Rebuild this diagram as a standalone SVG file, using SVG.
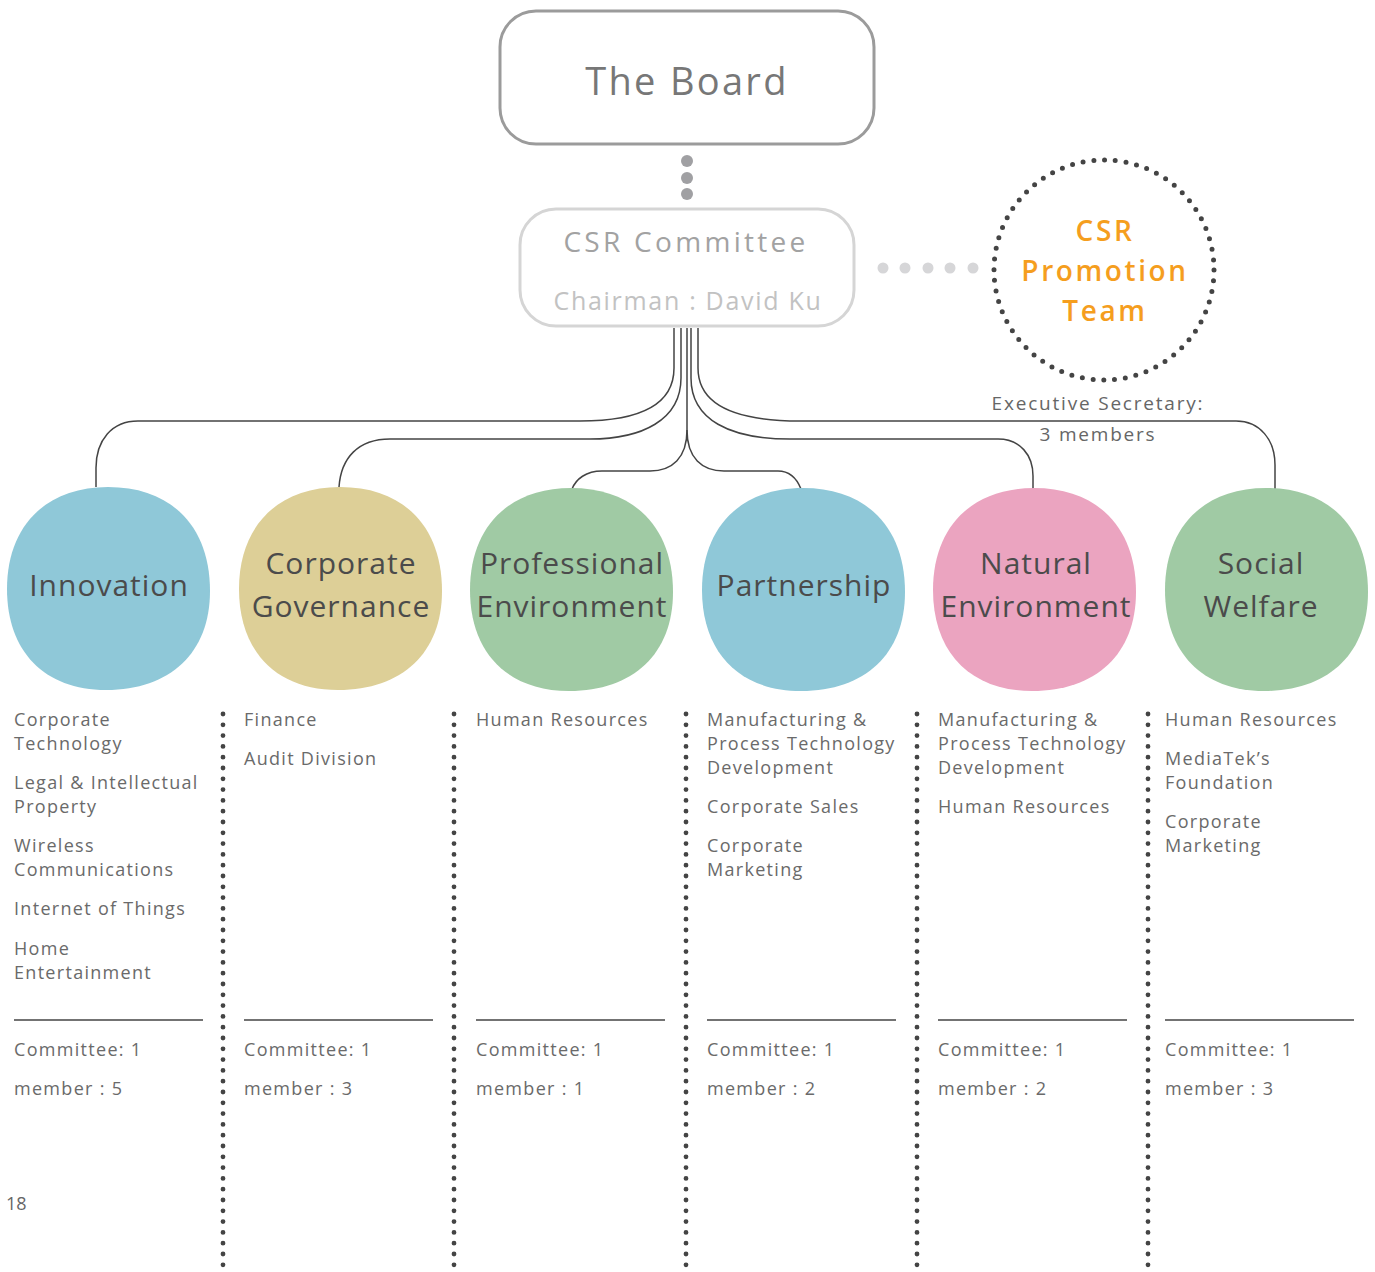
<svg xmlns="http://www.w3.org/2000/svg" width="1375" height="1272" viewBox="0 0 1375 1272">
<style>
  text { font-family: "Open Sans", "Liberation Sans", sans-serif; }
  .board { fill: #fff; stroke: #9b9b9b; stroke-width: 3; }
  .csr { fill: #fff; stroke: #d5d5d5; stroke-width: 3; }
  .conn { fill: none; stroke: #444; stroke-width: 1.5; }
  .btxt { font-size: 30px; fill: #4b4b4b; letter-spacing: 1px; text-anchor: middle; }
  .col { font-size: 18px; fill: #6a6a6a; letter-spacing: 1.3px; }
  .rule { stroke: #444; stroke-width: 1.5; }
  .vdots { fill: none; stroke: #444; stroke-width: 4.8; stroke-linecap: round; stroke-dasharray: 0 10.8; }
</style>
<defs>
  <path id="blob" d="M0,-102 C64,-102 102,-62 102,2 C102,64 62,101 -2,101 C-64,101 -101,62 -101,0 C-101,-62 -63,-102 0,-102 Z"/>
</defs>

<g id="board">
  <rect class="board" x="500" y="11" width="374" height="133" rx="36"/>
  <text x="687" y="95" text-anchor="middle" style="font-size:38px;fill:#777;letter-spacing:2.3px">The Board</text>
</g>

<g id="board-dots" fill="#a0a0a3">
  <circle cx="687" cy="161" r="6"/>
  <circle cx="687" cy="178" r="6"/>
  <circle cx="687" cy="194" r="6"/>
</g>

<g id="csr-committee">
  <rect class="csr" x="520" y="209" width="334" height="117" rx="36"/>
  <text x="686" y="252" text-anchor="middle" style="font-size:28px;fill:#a2a2a2;letter-spacing:3.3px">CSR Committee</text>
  <text x="688" y="310" text-anchor="middle" style="font-size:25px;fill:#c2c2c2;letter-spacing:1.7px">Chairman : David Ku</text>
</g>

<g id="side-dots" fill="#d6d6d8">
  <circle cx="883" cy="268" r="5.5"/>
  <circle cx="905" cy="268" r="5.5"/>
  <circle cx="928" cy="268" r="5.5"/>
  <circle cx="950" cy="268" r="5.5"/>
  <circle cx="973" cy="268" r="5.5"/>
</g>

<g id="csr-promotion-team">
  <circle cx="1104" cy="270" r="110" fill="none" stroke="#444" stroke-width="5" stroke-linecap="round" stroke-dasharray="0 10.8"/>
  <g style="font-size:28px;font-weight:600;fill:#f59e1e;letter-spacing:2.6px" text-anchor="middle">
    <text x="1105" y="241">CSR</text>
    <text x="1105" y="281">Promotion</text>
    <text x="1105" y="321">Team</text>
  </g>
  <text x="1098" y="410" text-anchor="middle" style="font-size:19px;fill:#666;letter-spacing:1.8px">Executive Secretary:</text>
  <text x="1098" y="441" text-anchor="middle" style="font-size:19px;fill:#666;letter-spacing:1.8px">3 members</text>
</g>

<g id="connectors">
  <path class="conn" d="M674,328 V368 C674,405 640,421 580,421 H138 C112,421 96,440 96,468 V487"/>
  <path class="conn" d="M681,328 V378 C681,420 642,439 590,439 H390 C358,439 341,458 339,487"/>
  <path class="conn" d="M687,328 V430 C687,458 672,471 650,471 H602 C586,471 576,479 572,489"/>
  <path class="conn" d="M687,430 C687,458 702,471 724,471 H778 C791,471 797,479 801,489"/>
  <path class="conn" d="M691,328 V378 C691,420 730,439 790,439 H998 C1020,439 1033,455 1033,476 V489"/>
  <path class="conn" d="M698,328 V368 C698,405 734,421 800,421 H1236 C1260,421 1275,440 1275,465 V489"/>
</g>

<g id="innovation">
  <use href="#blob" x="108" y="589" fill="#8fc8d8"/>
  <text class="btxt" x="109" y="596">Innovation</text>
</g>
<g id="corporate-governance">
  <use href="#blob" x="340" y="589" fill="#ddcf97"/>
  <text class="btxt" x="341" y="574">Corporate</text>
  <text class="btxt" x="341" y="617">Governance</text>
</g>
<g id="professional-environment">
  <use href="#blob" x="571" y="590" fill="#a0caa4"/>
  <text class="btxt" x="572" y="574">Professional</text>
  <text class="btxt" x="572" y="617">Environment</text>
</g>
<g id="partnership">
  <use href="#blob" x="803" y="590" fill="#8fc8d8"/>
  <text class="btxt" x="804" y="596">Partnership</text>
</g>
<g id="natural-environment">
  <use href="#blob" x="1034" y="590" fill="#eba4c0"/>
  <text class="btxt" x="1036" y="574">Natural</text>
  <text class="btxt" x="1036" y="617">Environment</text>
</g>
<g id="social-welfare">
  <use href="#blob" x="1266" y="590" fill="#a0caa4"/>
  <text class="btxt" x="1261" y="574">Social</text>
  <text class="btxt" x="1261" y="617">Welfare</text>
</g>

<g id="dividers">
  <line class="vdots" x1="223" y1="714" x2="223" y2="1272"/>
  <line class="vdots" x1="454" y1="714" x2="454" y2="1272"/>
  <line class="vdots" x1="686" y1="714" x2="686" y2="1272"/>
  <line class="vdots" x1="917" y1="714" x2="917" y2="1272"/>
  <line class="vdots" x1="1148" y1="714" x2="1148" y2="1272"/>
</g>

<g id="col-innovation">
  <text class="col" x="14" y="726">Corporate</text>
  <text class="col" x="14" y="750">Technology</text>
  <text class="col" x="14" y="789">Legal &amp; Intellectual</text>
  <text class="col" x="14" y="813">Property</text>
  <text class="col" x="14" y="852">Wireless</text>
  <text class="col" x="14" y="876">Communications</text>
  <text class="col" x="14" y="915">Internet of Things</text>
  <text class="col" x="14" y="955">Home</text>
  <text class="col" x="14" y="979">Entertainment</text>
  <line class="rule" x1="14" y1="1020" x2="203" y2="1020"/>
  <text class="col" x="14" y="1056">Committee: 1</text>
  <text class="col" x="14" y="1095">member : 5</text>
</g>
<g id="col-governance">
  <text class="col" x="244" y="726">Finance</text>
  <text class="col" x="244" y="765">Audit Division</text>
  <line class="rule" x1="244" y1="1020" x2="433" y2="1020"/>
  <text class="col" x="244" y="1056">Committee: 1</text>
  <text class="col" x="244" y="1095">member : 3</text>
</g>
<g id="col-professional">
  <text class="col" x="476" y="726">Human Resources</text>
  <line class="rule" x1="476" y1="1020" x2="665" y2="1020"/>
  <text class="col" x="476" y="1056">Committee: 1</text>
  <text class="col" x="476" y="1095">member : 1</text>
</g>
<g id="col-partnership">
  <text class="col" x="707" y="726">Manufacturing &amp;</text>
  <text class="col" x="707" y="750">Process Technology</text>
  <text class="col" x="707" y="774">Development</text>
  <text class="col" x="707" y="813">Corporate Sales</text>
  <text class="col" x="707" y="852">Corporate</text>
  <text class="col" x="707" y="876">Marketing</text>
  <line class="rule" x1="707" y1="1020" x2="896" y2="1020"/>
  <text class="col" x="707" y="1056">Committee: 1</text>
  <text class="col" x="707" y="1095">member : 2</text>
</g>
<g id="col-natural">
  <text class="col" x="938" y="726">Manufacturing &amp;</text>
  <text class="col" x="938" y="750">Process Technology</text>
  <text class="col" x="938" y="774">Development</text>
  <text class="col" x="938" y="813">Human Resources</text>
  <line class="rule" x1="938" y1="1020" x2="1127" y2="1020"/>
  <text class="col" x="938" y="1056">Committee: 1</text>
  <text class="col" x="938" y="1095">member : 2</text>
</g>
<g id="col-social">
  <text class="col" x="1165" y="726">Human Resources</text>
  <text class="col" x="1165" y="765">MediaTek’s</text>
  <text class="col" x="1165" y="789">Foundation</text>
  <text class="col" x="1165" y="828">Corporate</text>
  <text class="col" x="1165" y="852">Marketing</text>
  <line class="rule" x1="1165" y1="1020" x2="1354" y2="1020"/>
  <text class="col" x="1165" y="1056">Committee: 1</text>
  <text class="col" x="1165" y="1095">member : 3</text>
</g>

<text x="6" y="1210" style="font-size:18px;fill:#666">18</text>
</svg>
